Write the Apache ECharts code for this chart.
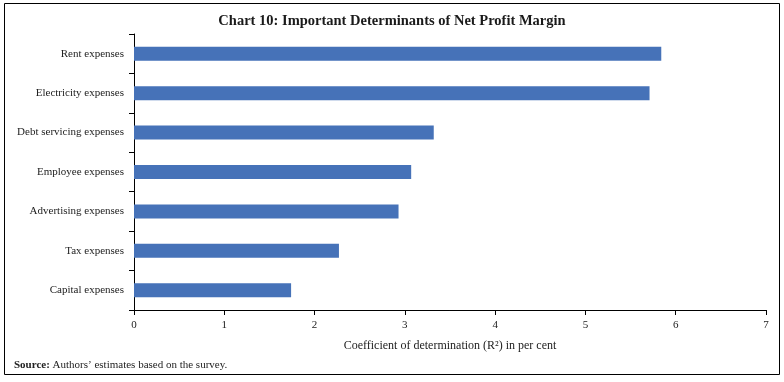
<!DOCTYPE html>
<html><head><meta charset="utf-8">
<script src="https://cdn.jsdelivr.net/npm/echarts@6/dist/echarts.min.js"></script>
<style>html,body{margin:0;padding:0;background:#fff}#c{width:784px;height:382px}</style>
</head><body><div id="c"></div>
<script>
const categories = ["Rent expenses","Electricity expenses","Debt servicing expenses","Employee expenses","Advertising expenses","Tax expenses","Capital expenses"];
const values = [5.84, 5.71, 3.32, 3.07, 2.93, 2.27, 1.74];
const xTicks = [0,1,2,3,4,5,6,7];
const FONT = '"Liberation Serif", "DejaVu Serif", serif';
const chart = echarts.init(document.getElementById('c'), null, {renderer:'canvas'});
chart.setOption({
  animation:false,
  title:{text:'Chart 10: Important Determinants of Net Profit Margin', left:'center', top:9,
    textStyle:{fontFamily:FONT, fontSize:14.5, fontWeight:'bold', color:'#1a1a1a'}},
  grid:{left:134, right:18, top:34, bottom:72, containLabel:false},
  xAxis:{type:'value', min:xTicks[0], max:xTicks[xTicks.length-1], interval:1,
    name:'Coefficient of determination (R²) in per cent', nameLocation:'middle', nameGap:30,
    nameTextStyle:{fontFamily:FONT, fontSize:12, color:'#222'},
    axisLine:{show:true, lineStyle:{color:'#000', width:1}},
    axisTick:{show:true, length:5, lineStyle:{color:'#000'}},
    axisLabel:{fontFamily:FONT, fontSize:11, color:'#222', margin:10},
    splitLine:{show:false}},
  yAxis:{type:'category', data:categories, inverse:true,
    axisLine:{show:true, lineStyle:{color:'#000', width:1}},
    axisTick:{show:true, length:5, inside:false, lineStyle:{color:'#000'}},
    axisLabel:{fontFamily:FONT, fontSize:11, color:'#222', margin:10}},
  series:[{type:'bar', data:values, barWidth:14, itemStyle:{color:'#4672b8'}}],
  graphic:[
    {type:'rect', shape:{x:4.5, y:3.5, width:775, height:371}, style:{fill:null, stroke:'#000', lineWidth:1}, silent:true},
    {type:'text', left:14, top:360, style:{
      text:'{b|Source:} Authors\u2019 estimates based on the survey.',
      fontFamily:FONT, fontSize:11, fill:'#222',
      rich:{b:{fontWeight:'bold', fontFamily:FONT, fontSize:11, fill:'#222'}}}}
  ]
});
</script></body></html>
